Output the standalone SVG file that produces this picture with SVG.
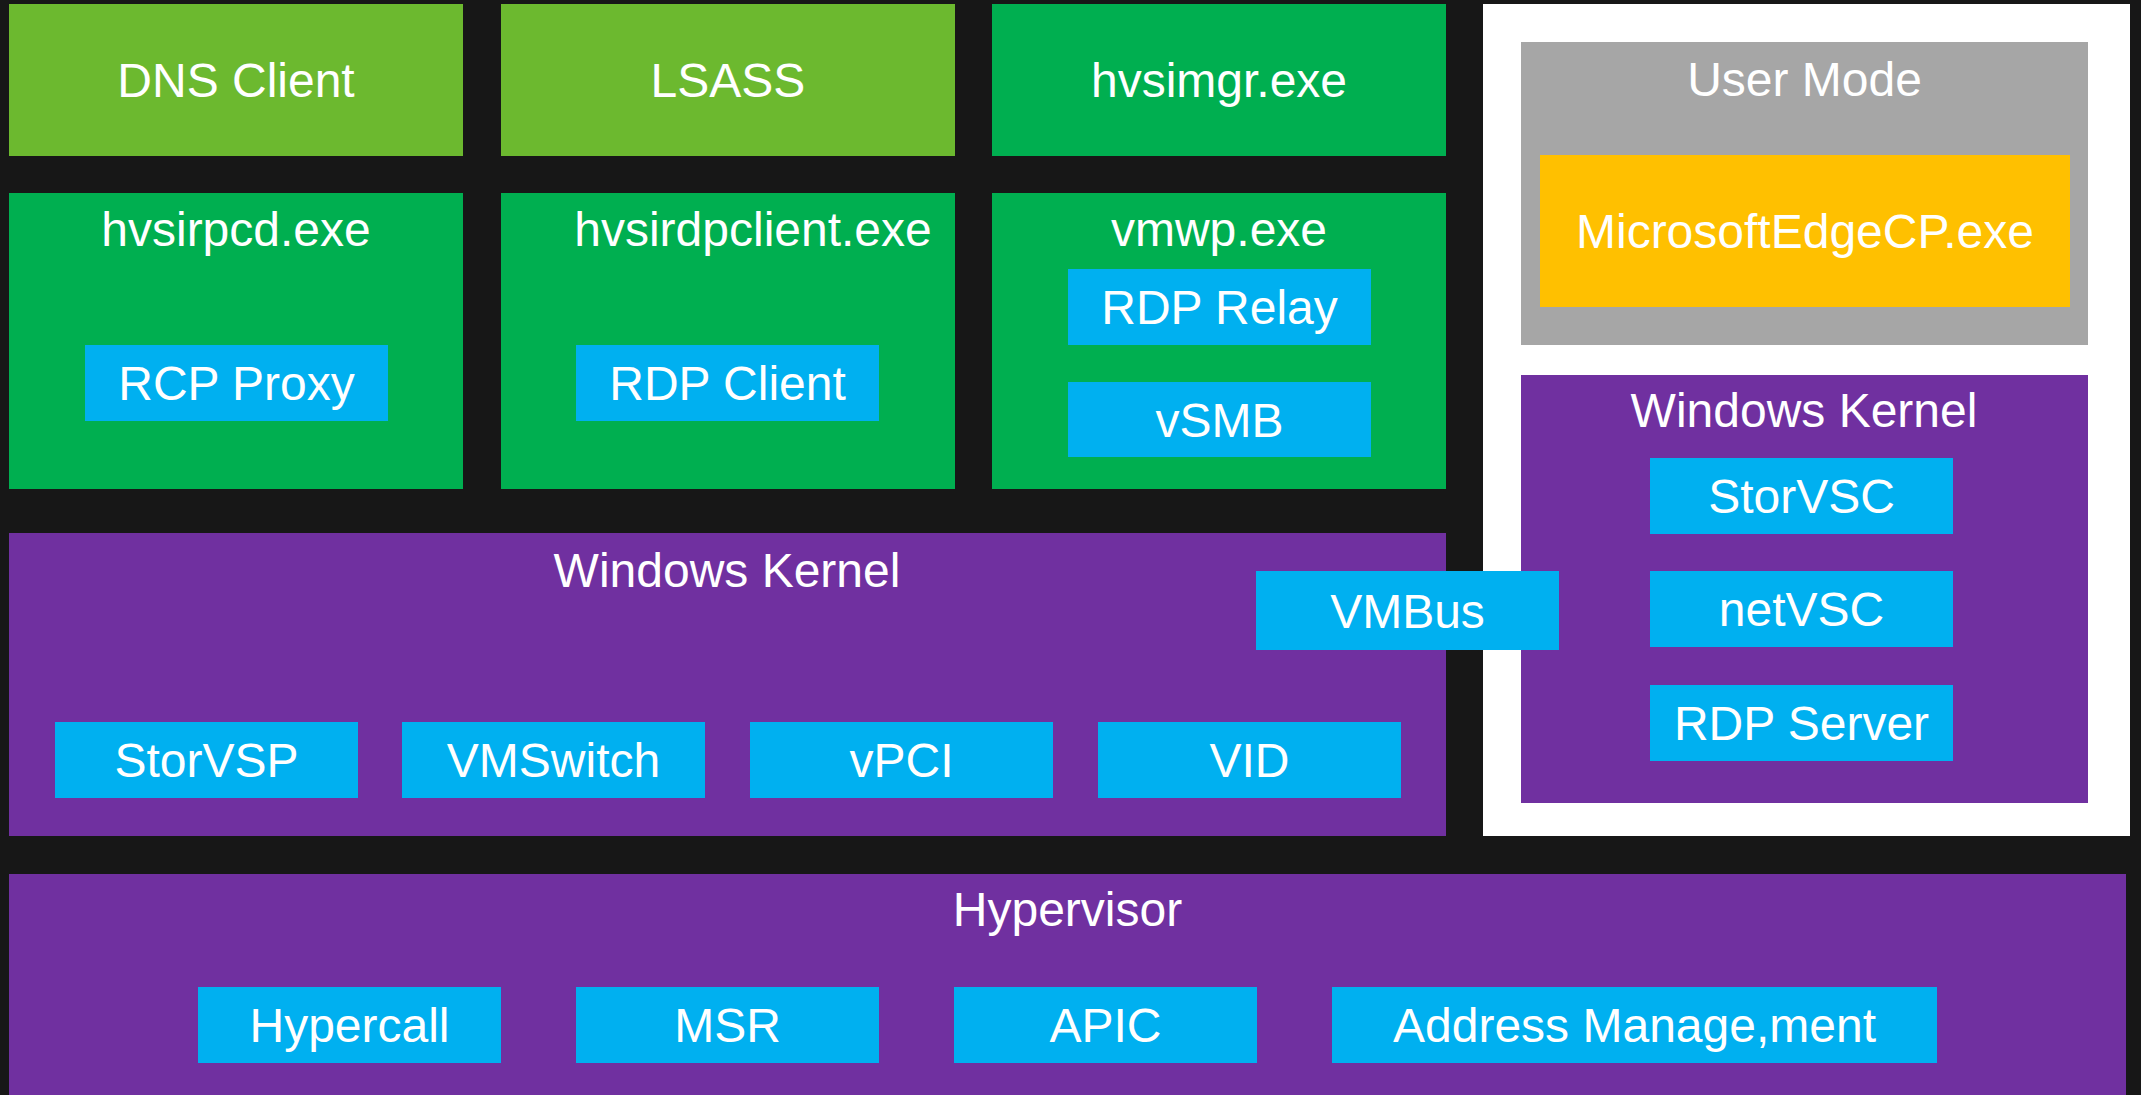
<svg xmlns="http://www.w3.org/2000/svg" width="2141" height="1095" viewBox="0 0 2141 1095">
<style>
text{font-family:"Liberation Sans",Arial,sans-serif;font-size:48px;fill:#FFFFFF;text-anchor:middle}
.lg{fill:#6CB92F}
.g{fill:#00AF50}
.b{fill:#00B0F0}
.p{fill:#7030A0}
.gr{fill:#A6A6A6}
.o{fill:#FFC000}
.w{fill:#FFFFFF}
</style>
<rect x="0" y="0" width="2141" height="1095" fill="#171717"/>
<g id="dns-client"><rect class="lg" x="9" y="4" width="454" height="152"/><text x="236" y="97">DNS Client</text></g>
<g id="lsass"><rect class="lg" x="501" y="4" width="454" height="152"/><text x="728" y="97">LSASS</text></g>
<g id="hvsimgr"><rect class="g" x="992" y="4" width="454" height="152"/><text x="1219" y="97">hvsimgr.exe</text></g>
<g id="hvsirpcd"><rect class="g" x="9" y="193" width="454" height="296"/><text x="236" y="246">hvsirpcd.exe</text></g>
<g id="rcp-proxy"><rect class="b" x="85" y="345" width="303" height="76"/><text x="236.5" y="400">RCP Proxy</text></g>
<g id="hvsirdpclient"><rect class="g" x="501" y="193" width="454" height="296"/><text x="753" y="246">hvsirdpclient.exe</text></g>
<g id="rdp-client"><rect class="b" x="576" y="345" width="303" height="76"/><text x="727.5" y="400">RDP Client</text></g>
<g id="vmwp"><rect class="g" x="992" y="193" width="454" height="296"/><text x="1219" y="246">vmwp.exe</text></g>
<g id="rdp-relay"><rect class="b" x="1068" y="269" width="303" height="76"/><text x="1219.5" y="324">RDP Relay</text></g>
<g id="vsmb"><rect class="b" x="1068" y="382" width="303" height="75"/><text x="1219.5" y="437">vSMB</text></g>
<g id="guest"><rect class="w" x="1483" y="4" width="647" height="832"/></g>
<g id="user-mode"><rect class="gr" x="1521" y="42" width="567" height="303"/><text x="1804.5" y="96">User Mode</text></g>
<g id="edge"><rect class="o" x="1540" y="155" width="530" height="152"/><text x="1805" y="248">MicrosoftEdgeCP.exe</text></g>
<g id="guest-kernel"><rect class="p" x="1521" y="375" width="567" height="428"/><text x="1804" y="427">Windows Kernel</text></g>
<g id="storvsc"><rect class="b" x="1650" y="458" width="303" height="76"/><text x="1801.5" y="513">StorVSC</text></g>
<g id="netvsc"><rect class="b" x="1650" y="571" width="303" height="76"/><text x="1801.5" y="626">netVSC</text></g>
<g id="rdp-server"><rect class="b" x="1650" y="685" width="303" height="76"/><text x="1801.5" y="740">RDP Server</text></g>
<g id="host-kernel"><rect class="p" x="9" y="533" width="1437" height="303"/><text x="727" y="587">Windows Kernel</text></g>
<g id="storvsp"><rect class="b" x="55" y="722" width="303" height="76"/><text x="206.5" y="777">StorVSP</text></g>
<g id="vmswitch"><rect class="b" x="402" y="722" width="303" height="76"/><text x="553.5" y="777">VMSwitch</text></g>
<g id="vpci"><rect class="b" x="750" y="722" width="303" height="76"/><text x="901.5" y="777">vPCI</text></g>
<g id="vid"><rect class="b" x="1098" y="722" width="303" height="76"/><text x="1249.5" y="777">VID</text></g>
<g id="vmbus"><rect class="b" x="1256" y="571" width="303" height="79"/><text x="1407.5" y="628">VMBus</text></g>
<g id="hypervisor"><rect class="p" x="9" y="874" width="2117" height="230"/><text x="1067.5" y="926">Hypervisor</text></g>
<g id="hypercall"><rect class="b" x="198" y="987" width="303" height="76"/><text x="349.5" y="1042">Hypercall</text></g>
<g id="msr"><rect class="b" x="576" y="987" width="303" height="76"/><text x="727.5" y="1042">MSR</text></g>
<g id="apic"><rect class="b" x="954" y="987" width="303" height="76"/><text x="1105.5" y="1042">APIC</text></g>
<g id="address"><rect class="b" x="1332" y="987" width="605" height="76"/><text x="1634.5" y="1042">Address Manage,ment</text></g>
<g id="connectors"></g>
</svg>
